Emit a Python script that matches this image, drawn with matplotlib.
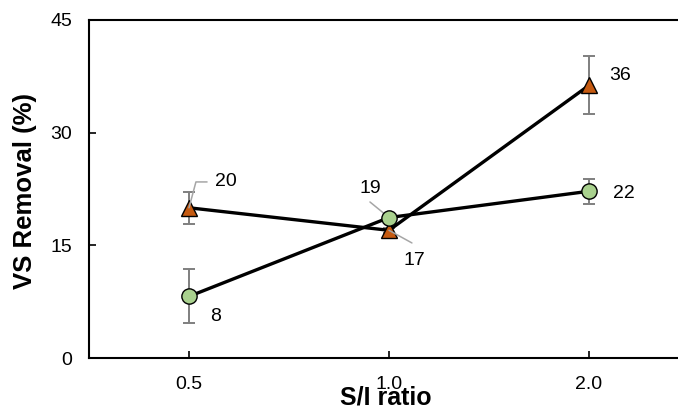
import numpy as np
import matplotlib
matplotlib.use('Agg')
import matplotlib.pyplot as plt

plt.rcParams['font.family'] = ['Liberation Sans', 'DejaVu Sans']

# S/I ratio categories
ratios = ['0.5', '1.0', '2.0']
# series values (VS removal %)
tri_vals = [20.0, 17.0, 36.3]
tri_err = [2.1, 0.3, 3.85]
circ_vals = [8.2, 18.7, 22.2]
circ_err = [3.6, 0.3, 1.65]
tri_labels = ['20', '17', '36']
circ_labels = ['8', '19', '22']

x = np.arange(len(ratios))

fig = plt.figure(figsize=(6.78, 4.11), dpi=100)
ax = fig.add_axes([89/678, 53/411, 600/678, 338/411])

ax.errorbar(x, tri_vals, yerr=tri_err, fmt='none', ecolor='#7f7f7f', elinewidth=1.4, capsize=4.2, capthick=1.4, zorder=2)
ax.errorbar(x, circ_vals, yerr=circ_err, fmt='none', ecolor='#7f7f7f', elinewidth=1.4, capsize=4.2, capthick=1.4, zorder=2)
ax.plot(x, tri_vals, color='black', lw=2.4, marker='^', ms=11.5, mfc='#c55a11', mec='black', mew=1, zorder=3)
ax.plot(x, circ_vals, color='black', lw=2.4, marker='o', ms=11, mfc='#a9d18e', mec='black', mew=1, zorder=4)

fs = 14
gray = '#a6a6a6'
op = 'offset points'

# data labels (offsets in points from each marker)
ax.annotate(tri_labels[0], xy=(x[0], tri_vals[0]), xytext=(18.7, 18.6), textcoords=op,
            fontsize=fs, ha='left', va='center')
ax.annotate('', xy=(x[0], tri_vals[0]), xytext=(13, 18.6), textcoords=op,
            arrowprops=dict(arrowstyle='-', color=gray, lw=1.1, shrinkA=0, shrinkB=0,
                            connectionstyle='angle,angleA=0,angleB=75,rad=0'))

ax.annotate(circ_labels[1], xy=(x[1], circ_vals[1]), xytext=(-13.7, 21), textcoords=op,
            fontsize=fs, ha='center', va='center')
ax.annotate('', xy=(x[1], circ_vals[1]), xytext=(-13.7, 11.2), textcoords=op,
            arrowprops=dict(arrowstyle='-', color=gray, lw=1.1, shrinkA=0, shrinkB=0))

ax.annotate(tri_labels[1], xy=(x[1], tri_vals[1]), xytext=(18, -21.7), textcoords=op,
            fontsize=fs, ha='center', va='center')
ax.annotate('', xy=(x[1], tri_vals[1]), xytext=(16.5, -9.1), textcoords=op,
            arrowprops=dict(arrowstyle='-', color=gray, lw=1.1, shrinkA=0, shrinkB=0))

ax.annotate(tri_labels[2], xy=(x[2], tri_vals[2]), xytext=(14.4, 7.1), textcoords=op,
            fontsize=fs, ha='left', va='center')
ax.annotate(circ_labels[2], xy=(x[2], circ_vals[2]), xytext=(17.3, -1.4), textcoords=op,
            fontsize=fs, ha='left', va='center')
ax.annotate(circ_labels[0], xy=(x[0], circ_vals[0]), xytext=(15, -14.3), textcoords=op,
            fontsize=fs, ha='left', va='center')

ax.set_xlim(-0.5, 2.5)
ax.set_ylim(0, 45)
ax.set_yticks([0, 15, 30, 45])
ax.set_xticks(x)
ax.set_xticklabels(ratios)
ax.tick_params(direction='in', length=5, width=1.2, labelsize=fs, colors='black', pad=12)
ax.tick_params(axis='x', pad=13)
ax.set_xlabel('S/I ratio', fontsize=18, fontweight='bold', va='center')
ax.set_ylabel('VS Removal (%)', fontsize=18.5, fontweight='bold', va='center')
ax.xaxis.set_label_coords(0.495, -0.117)
ax.yaxis.set_label_coords(-0.107, 0.493)
for s in ax.spines.values():
    s.set_linewidth(1.5)

fig.savefig('out.png', dpi=100)
